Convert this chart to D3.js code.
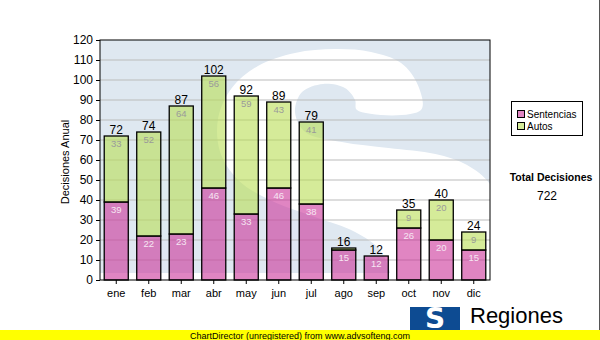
<!DOCTYPE html>
<html>
<head>
<meta charset="utf-8">
<script src="https://cdn.jsdelivr.net/npm/d3@7"></script>
<style>
  html, body { margin: 0; padding: 0; background: #fff; }
  svg { display: block; font-family: "Liberation Sans", Arial, sans-serif; }
</style>
</head>
<body>
<svg id="chart" width="600" height="340"></svg>
<script>
// ---- data ----
const months = ["ene","feb","mar","abr","may","jun","jul","ago","sep","oct","nov","dic"];
const sentencias = [39,22,23,46,33,46,38,15,12,26,20,15];
const autos      = [33,52,64,56,59,43,41,1,0,9,20,9];
const seriesNames = ["Sentencias","Autos"];
const yTicks = [0,10,20,30,40,50,60,70,80,90,100,110,120];
const yTitle = "Decisiones Anual";
const totalTitle = "Total Decisiones";
const footerText = "ChartDirector (unregistered) from www.advsofteng.com";
const logoText = "Regiones";
const logoSub = "Tribunal Supremo de Justicia";

// ---- layout ----
const svg = d3.select("#chart");
const plot = {left: 100, right: 490, top: 40, bottom: 280};
const colors = {
  sent: "rgb(204,51,153)", aut: "rgb(185,222,85)", op: 0.6,
  wmBlue: "#dfe8f1", grid: "#bbbbbb"
};

const x = d3.scaleBand().domain(months).range([plot.left, plot.right])
  .paddingInner(0.26).paddingOuter(0.13);
const y = d3.scaleLinear().domain([0, 120]).range([plot.bottom, plot.top]);

// ---- watermark (faded logo) ----
const W = plot.right - plot.left, H = plot.bottom - plot.top;
const defs = svg.append("defs");
defs.append("clipPath").attr("id", "wmclip").append("rect")
  .attr("x", plot.left).attr("y", plot.top).attr("width", W).attr("height", 233);
const wm = svg.append("g").attr("clip-path", "url(#wmclip)");
wm.append("rect").attr("x", plot.left).attr("y", plot.top)
  .attr("width", W).attr("height", 233).attr("fill", colors.wmBlue);
// S outline in plot-relative fractions
const sShape = [
  [0.823,0.292],[0.815,0.188],[0.772,0.096],[0.695,0.05],[0.603,0.038],[0.5,0.054],
  [0.405,0.108],[0.338,0.2],[0.303,0.325],[0.308,0.467],[0.354,0.583],[0.436,0.667],
  [0.551,0.738],[0.654,0.8],[0.718,0.875],[0.744,0.971],[0.75,1.05],
  [1.05,1.05],[1.04,0.75],[1.0,0.6],[0.94,0.52],[0.86,0.475],[0.74,0.45],[0.62,0.425],
  [0.526,0.383],[0.5,0.3],[0.518,0.217],[0.572,0.183],[0.628,0.2],[0.654,0.25],[0.659,0.292]
].map(p => [plot.left + p[0]*W, plot.top + p[1]*H]);
wm.append("path")
  .attr("d", d3.line().curve(d3.curveCatmullRomClosed.alpha(0.5))(sShape))
  .attr("fill", "#ffffff");

// ---- grid ----
svg.append("g").selectAll("line").data(yTicks.filter(d => d > 0 && d < 120)).join("line")
  .attr("x1", plot.left).attr("x2", plot.right)
  .attr("y1", d => y(d)).attr("y2", d => y(d))
  .attr("stroke", colors.grid).attr("stroke-width", 1.2);

// ---- bars ----
const bars = svg.append("g");
months.forEach((m, i) => {
  const s = sentencias[i], a = autos[i];
  bars.append("rect")
    .attr("x", x(m)).attr("width", x.bandwidth())
    .attr("y", y(s)).attr("height", y(0) - y(s))
    .attr("fill", colors.sent).attr("fill-opacity", colors.op)
    .attr("stroke", "#000").attr("stroke-width", 1.3);
  if (a > 0) {
    bars.append("rect")
      .attr("x", x(m)).attr("width", x.bandwidth())
      .attr("y", y(s + a)).attr("height", y(s) - y(s + a))
      .attr("fill", colors.aut).attr("fill-opacity", colors.op)
      .attr("stroke", "#000").attr("stroke-width", 1.3);
  }
});

// ---- labels ----
const lab = svg.append("g").attr("text-anchor", "middle");
months.forEach((m, i) => {
  const s = sentencias[i], a = autos[i], cx = x(m) + x.bandwidth() / 2;
  if (y(0) - y(s) >= 12)
    lab.append("text").attr("x", cx).attr("y", y(s) + 11)
      .attr("font-size", 9.5).attr("fill", "#f6e6f2").text(s);
  if (y(s) - y(s + a) >= 12)
    lab.append("text").attr("x", cx).attr("y", y(s + a) + 11)
      .attr("font-size", 9.5).attr("fill", "#9a9a9a").text(a);
  lab.append("text").attr("x", cx).attr("y", y(s + a) - 2)
    .attr("font-size", 12).attr("fill", "#000").text(s + a);
});

// ---- frame & axes ----
svg.append("rect").attr("x", plot.left).attr("y", plot.top)
  .attr("width", W).attr("height", H)
  .attr("fill", "none").attr("stroke", "#000").attr("stroke-width", 1);

const yAxis = svg.append("g").attr("transform", `translate(${plot.left},0)`)
  .call(d3.axisLeft(y).tickValues(yTicks).tickSize(4).tickPadding(3));
yAxis.select(".domain").remove();
yAxis.selectAll("text").attr("font-size", 12).attr("fill", "#000")
  .attr("font-family", "Liberation Sans, Arial, sans-serif");

const xAxis = svg.append("g").attr("transform", `translate(0,${plot.bottom})`)
  .call(d3.axisBottom(x).tickSize(4).tickPadding(5));
xAxis.select(".domain").remove();
xAxis.selectAll("text").attr("font-size", 11).attr("fill", "#000")
  .attr("font-family", "Liberation Sans, Arial, sans-serif");

svg.append("text").attr("transform", "translate(69,162) rotate(-90)")
  .attr("text-anchor", "middle").attr("font-size", 11).text(yTitle);

// ---- legend ----
const lg = svg.append("g");
lg.append("rect").attr("x", 511.5).attr("y", 101.5).attr("width", 71).attr("height", 34)
  .attr("fill", "#fff").attr("stroke", "#000");
const legColors = [colors.sent, colors.aut];
seriesNames.forEach((n, i) => {
  lg.append("rect").attr("x", 517.5).attr("y", 110.5 + i * 12).attr("width", 7).attr("height", 7)
    .attr("fill", legColors[i]).attr("fill-opacity", colors.op).attr("stroke", "#000");
  lg.append("text").attr("x", 527).attr("y", 118 + i * 12)
    .attr("font-size", 10).text(n);
});

const total = d3.sum(sentencias) + d3.sum(autos);
svg.append("text").attr("x", 551).attr("y", 181).attr("text-anchor", "middle")
  .attr("font-size", 10.5).attr("font-weight", "bold").text(totalTitle);
svg.append("text").attr("x", 547).attr("y", 200).attr("text-anchor", "middle")
  .attr("font-size", 12).text(total);

// ---- logo ----
const logo = svg.append("g");
logo.append("rect").attr("x", 410).attr("y", 307).attr("width", 50).attr("height", 23)
  .attr("fill", "#0d4b92");
logo.append("text").attr("x", 435).attr("y", 328).attr("text-anchor", "middle")
  .attr("font-size", 28).attr("font-weight", "bold").attr("fill", "#fff")
  .attr("font-family", "DejaVu Sans, sans-serif").text("S");
logo.append("text").attr("x", 470).attr("y", 323).attr("font-size", 22).text(logoText);
logo.append("text").attr("x", 467).attr("y", 338).attr("font-size", 10).text(logoSub);

// ---- right border & footer ----
svg.append("line").attr("x1", 599.5).attr("x2", 599.5).attr("y1", 0).attr("y2", 330)
  .attr("stroke", "#555");
svg.append("rect").attr("x", 0).attr("y", 330).attr("width", 600).attr("height", 10)
  .attr("fill", "#ffff00");
svg.append("text").attr("x", 190).attr("y", 338.5).attr("font-size", 9).text(footerText);
</script>
</body>
</html>
